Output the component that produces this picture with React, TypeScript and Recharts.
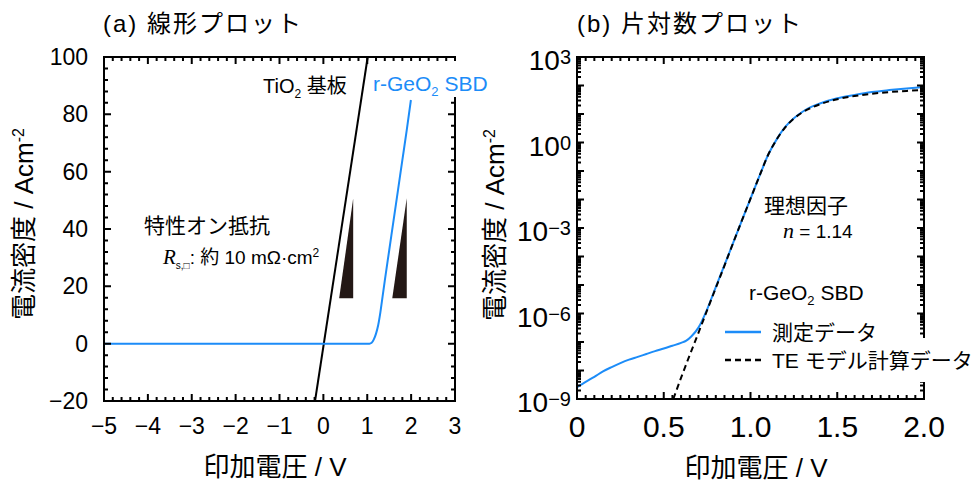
import React from "react";
import { LineChart, Line, XAxis, YAxis, ReferenceArea } from "recharts";

const FONT = '"Liberation Sans", Arial, "Noto Sans CJK JP", sans-serif';
const SERIF = '"Liberation Serif", "Times New Roman", serif';
const BLUE = "#1c8cf8";
const INK = "#231815";

// (a) linear plot
const linXMajor = [-5, -4, -3, -2, -1, 0, 1, 2, 3];
const linXLabels = ["−5", "−4", "−3", "−2", "−1", "0", "1", "2", "3"];
const linYMajor = [-20, 0, 20, 40, 60, 80, 100];
const linYLabels = ["−20", "0", "20", "40", "60", "80", "100"];

const tio2V = [-0.19, 1.01];
const tio2J = [-20, 100];

const geLinV = [-5, 1.05, 1.1, 1.15, 1.2, 1.25, 1.3, 1.35, 1.4, 1.5, 1.6, 1.7, 1.8, 1.9, 1.995];
const geLinJ = [0, 0, 0.3, 1.5, 3.5, 6.5, 11, 16.5, 22, 32.5, 43, 53.5, 64, 74.5, 85];

// slope wedges (V, J)
const wedges = [
  { x1: 0.36, x2: 0.68, y1: 15.8, y2: 50.7 },
  { x1: 1.57, x2: 1.9, y1: 15.8, y2: 50.7 },
];

// (b) semi-log plot
const logXMajor = [0, 0.5, 1, 1.5, 2];
const logXLabels = ["0", "0.5", "1.0", "1.5", "2.0"];
const logYExps = [-9, -6, -3, 0, 3];
const logYExpLabels = ["−9", "−6", "−3", "0", "3"];

const measV = [0, 0.05, 0.1, 0.15, 0.2, 0.25, 0.3, 0.35, 0.4, 0.45, 0.5, 0.55, 0.6, 0.63, 0.66, 0.7, 0.75, 0.8, 0.85, 0.9, 0.95, 1.0, 1.05, 1.1, 1.15, 1.2, 1.25, 1.3, 1.35, 1.4, 1.5, 1.6, 1.7, 1.8, 1.9, 2.0];
const measJ = [2.6e-9, 4.0e-9, 6.0e-9, 9.3e-9, 1.32e-8, 1.82e-8, 2.4e-8, 3.0e-8, 3.8e-8, 4.8e-8, 5.9e-8, 7.4e-8, 9.3e-8, 1.12e-7, 1.6e-7, 3.2e-7, 1.4e-6, 8.5e-6, 5.0e-5, 3.0e-4, 1.8e-3, 1.07e-2, 6.3e-2, 0.35, 1.26, 3.5, 7.1, 12, 17.8, 23.4, 35.5, 46.8, 58.9, 69, 79, 89];

const teV = [0.555, 0.6, 0.65, 0.7, 0.75, 0.8, 0.85, 0.9, 0.95, 1.0, 1.05, 1.1, 1.15, 1.2, 1.25, 1.3, 1.35, 1.4, 1.5, 1.6, 1.7, 1.8, 1.9, 2.0];
const teJ = [1e-9, 5.6e-9, 3.5e-8, 2.1e-7, 1.3e-6, 7.9e-6, 4.8e-5, 3.0e-4, 1.8e-3, 1.07e-2, 6.3e-2, 0.35, 1.26, 3.4, 6.9, 11.5, 16.6, 21.9, 33, 42.7, 51.3, 58.9, 64.6, 69.2];

const zip = (v: number[], j: number[]) => v.map((x, i) => ({ v: x, j: j[i] }));
const tio2Data = zip(tio2V, tio2J);
const geLinData = zip(geLinV, geLinJ);
const measData = zip(measV, measJ);
const teData = zip(teV, teJ);

const steps = (a: number, b: number, s: number) => {
  const out: number[] = [];
  for (let k = 0; a + k * s <= b + 1e-9; k++) out.push(Math.round((a + k * s) * 1000) / 1000);
  return out;
};
const linXTicks = steps(-5, 3, 0.2);
const linYTicks = steps(-20, 100, 4);
const logXTicks = steps(0, 2, 0.05);
const logYTicks: number[] = [];
for (let e = -9; e < 3; e++) for (let m = 1; m < 10; m++) logYTicks.push(m * Math.pow(10, e));
logYTicks.push(1e3);

const near = (arr: number[], v: number) => arr.findIndex((a) => Math.abs(a - v) < 1e-6);
const isDecade = (v: number) => Math.abs(Math.log10(v) - Math.round(Math.log10(v))) < 1e-6;
const linXMaj = (v: number) => near(linXMajor, v) >= 0;
const linYMaj = (v: number) => near(linYMajor, v) >= 0;
const logXMaj = (v: number) => near(logXMajor, v) >= 0;

// chart boxes (page px)
const A = { left: 0, w: 490, h: 482, top: 57, right: 35, yw: 104, xh: 81 };
const B = { left: 490, w: 486, h: 482, top: 57, right: 52, yw: 87, xh: 83 };
const box = (c: typeof A) => ({ x: c.left + c.yw, y: c.top, w: c.w - c.right - c.yw, h: c.h - c.top - c.xh });

// ticks: marks on all four sides + labels on the major ones
function frameTick(c: typeof A, side: "x" | "y", isMajor: (v: number) => boolean, label: (v: number, x: number, y: number) => React.ReactNode) {
  const bx = box(c);
  return (props: any) => {
    const x = Number(props.x);
    const y = Number(props.y);
    const v = props.payload.value;
    const major = isMajor(v);
    const len = major ? 7 : 4;
    const d = side === "x"
      ? `M${x},${y}V${y - len}M${x},${y - bx.h}V${y - bx.h + len}`
      : `M${x},${y}H${x + len}M${x + bx.w},${y}H${x + bx.w - len}`;
    return (
      <g>
        <path d={d} stroke="#000" strokeWidth={2} fill="none" />
        {major ? label(v, x, y) : null}
      </g>
    );
  };
}

const Wedge = (p: any) => {
  const { x, y, width, height } = p;
  return <polygon points={`${x + width},${y} ${x},${y + height} ${x + width},${y + height}`} fill={INK} />;
};
const Frame = (p: any) => (
  <rect x={p.x} y={p.y} width={p.width} height={p.height} fill="none" stroke="#000" strokeWidth={2} />
);

const axisCommon = {
  interval: 0 as const,
  tickSize: 0,
  tickMargin: 0,
  tickLine: false,
  axisLine: false,
};

// titles, notes and legend as svg text
function Notes() {
  const a = box(A);
  const b = box(B);
  return (
    <svg style={{ position: "absolute", left: 0, top: 0 }} width={976} height={482}>
      <rect x={a.x} y={a.y} width={a.w} height={a.h} fill="none" stroke="#000" strokeWidth={2} />
      <rect x={b.x} y={b.y} width={b.w} height={b.h} fill="none" stroke="#000" strokeWidth={2} />
      <g fontFamily={FONT} fill="#000">
        <text x={103} y={31.5} fontSize={24} letterSpacing={2}>(a) 線形プロット</text>
        <text x={577} y={31.5} fontSize={24} letterSpacing={2}>(b) 片対数プロット</text>

        <text transform="translate(24,224) rotate(-90)" x={0} y={9} fontSize={26} textAnchor="middle">
          電流密度 / Acm<tspan dy={-9} fontSize={16}>-2</tspan>
        </text>
        <text transform="translate(495,225) rotate(-90)" x={0} y={9} fontSize={26} textAnchor="middle">
          電流密度 / Acm<tspan dy={-9} fontSize={16}>-2</tspan>
        </text>
        <text x={275} y={476} fontSize={26} textAnchor="middle">印加電圧 / V</text>
        <text x={756} y={477} fontSize={26} textAnchor="middle">印加電圧 / V</text>

        <text x={263} y={93} fontSize={20}>
          TiO<tspan dy={5} fontSize={12}>2</tspan><tspan dy={-5}> 基板</tspan>
        </text>
        <rect x={369} y={61} width={121} height={36} fill="#fff" />
        <text x={373} y={91} fontSize={21} fill={BLUE}>
          r-GeO<tspan dy={5} fontSize={13}>2</tspan><tspan dy={-5}> SBD</tspan>
        </text>
        <text x={144} y={232.5} fontSize={21}>特性オン抵抗</text>
        <text x={163} y={263.5} fontSize={19}>
          <tspan fontFamily={SERIF} fontStyle="italic" fontSize={21}>R</tspan>
          <tspan dy={5} fontSize={10}>s,□</tspan>
          <tspan dy={-5}>: 約 10 mΩ·cm</tspan>
          <tspan dy={-7} fontSize={12}>2</tspan>
        </text>

        <text x={764} y={212.5} fontSize={21}>理想因子</text>
        <text x={783} y={237.5} fontSize={19}>
          <tspan fontFamily={SERIF} fontStyle="italic" fontSize={22}>n</tspan> = 1.14
        </text>
        <text x={749} y={299.5} fontSize={21}>
          r-GeO<tspan dy={5} fontSize={13}>2</tspan><tspan dy={-5}> SBD</tspan>
        </text>

        <rect x={718} y={338} width={258} height={44} fill="#fff" />
        <line x1={725} x2={761} y1={332} y2={332} stroke={BLUE} strokeWidth={2.5} />
        <line x1={725} x2={761} y1={360} y2={360} stroke="#000" strokeWidth={2.5} strokeDasharray="6 4" />
        <text x={772} y={339.5} fontSize={21}>測定データ</text>
        <text x={772} y={367.5} fontSize={21}>TE モデル計算データ</text>
      </g>
    </svg>
  );
}

export default function App() {
  return (
    <div style={{ position: "absolute", left: 0, top: 0, width: 976, height: 482 }}>
      <div style={{ position: "absolute", left: A.left, top: 0 }}>
        <LineChart width={A.w} height={A.h} margin={{ top: A.top, right: A.right, bottom: 0, left: 0 }}>
          <XAxis
            {...axisCommon} dataKey="v" type="number" domain={[-5, 3]} ticks={linXTicks} height={A.xh}
            tick={frameTick(A, "x", linXMaj, (v, x, y) => (
              <text x={x} y={y + 33} textAnchor="middle" fontSize={23} fontFamily={FONT} fill="#000">
                {linXLabels[near(linXMajor, v)]}
              </text>
            ))}
          />
          <YAxis
            {...axisCommon} type="number" domain={[-20, 100]} ticks={linYTicks} width={A.yw}
            tick={frameTick(A, "y", linYMaj, (v, x, y) => (
              <text x={x - 16} y={y + 8} textAnchor="end" fontSize={23} fontFamily={FONT} fill="#000">
                {linYLabels[near(linYMajor, v)]}
              </text>
            ))}
          />
          <ReferenceArea x1={-5} x2={3} y1={-20} y2={100} shape={Frame} />
          {wedges.map((w, i) => (
            <ReferenceArea key={i} x1={w.x1} x2={w.x2} y1={w.y1} y2={w.y2} shape={Wedge} />
          ))}
          <Line data={tio2Data} dataKey="j" type="linear" stroke="#000" strokeWidth={2} dot={false} isAnimationActive={false} />
          <Line data={geLinData} dataKey="j" type="monotone" stroke={BLUE} strokeWidth={2} dot={false} isAnimationActive={false} />
        </LineChart>
      </div>

      <div style={{ position: "absolute", left: B.left, top: 0 }}>
        <LineChart width={B.w} height={B.h} margin={{ top: B.top, right: B.right, bottom: 0, left: 0 }}>
          <XAxis
            {...axisCommon} dataKey="v" type="number" domain={[0, 2]} ticks={logXTicks} height={B.xh}
            tick={frameTick(B, "x", logXMaj, (v, x, y) => (
              <text x={x} y={y + 38} textAnchor="middle" fontSize={30} fontFamily={FONT} fill="#000">
                {logXLabels[near(logXMajor, v)]}
              </text>
            ))}
          />
          <YAxis
            {...axisCommon} type="number" scale="log" domain={[1e-9, 1e3]} ticks={logYTicks} width={B.yw}
            tick={frameTick(B, "y", isDecade, (v, x, y) => {
              const k = logYExps.indexOf(Math.round(Math.log10(v)));
              if (k < 0) return null;
              return (
                <text x={x - 6} y={y + 13} textAnchor="end" fontSize={28} fontFamily={FONT} fill="#000">
                  10<tspan dy={-6} fontSize={20}>{logYExpLabels[k]}</tspan>
                </text>
              );
            })}
          />
          <ReferenceArea x1={0} x2={2} y1={1e-9} y2={1e3} shape={Frame} />
          <Line data={measData} dataKey="j" type="monotone" stroke={BLUE} strokeWidth={2} dot={false} isAnimationActive={false} />
          <Line data={teData} dataKey="j" type="monotone" stroke="#000" strokeWidth={2} strokeDasharray="6 4" dot={false} isAnimationActive={false} />
        </LineChart>
      </div>

      <Notes />
    </div>
  );
}
